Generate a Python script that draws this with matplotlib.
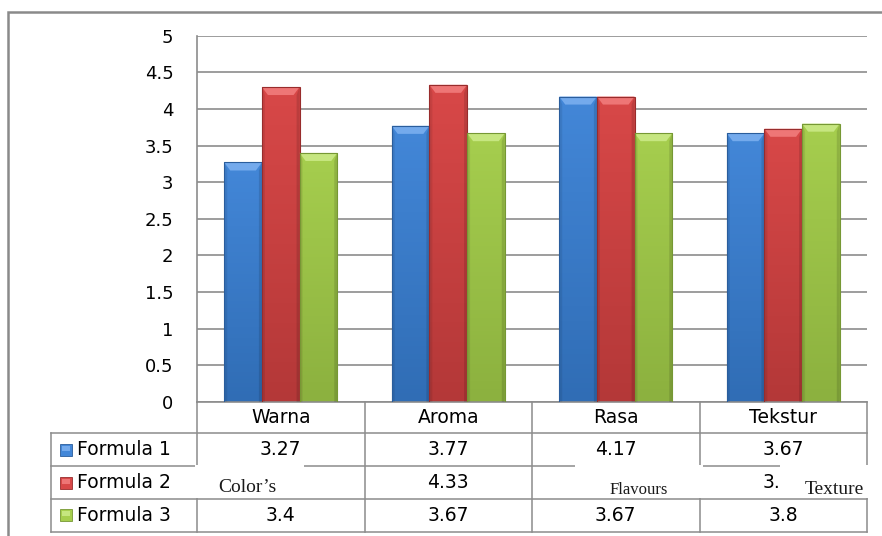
import numpy as np
import matplotlib.pyplot as plt
import matplotlib.colors as mcolors
from matplotlib.patches import Rectangle, Polygon
from matplotlib.lines import Line2D
from matplotlib.transforms import blended_transform_factory

# nilai rata-rata uji organoleptik
categories = ['Warna', 'Aroma', 'Rasa', 'Tekstur']
series = ['Formula 1', 'Formula 2', 'Formula 3']
formula1 = [3.27, 3.77, 4.17, 3.67]
formula2 = [4.3, 4.33, 4.17, 3.73]
formula3 = [3.4, 3.67, 3.67, 3.8]
yticks = [0, 0.5, 1, 1.5, 2, 2.5, 3, 3.5, 4, 4.5, 5]
notes = ['Color\u2019s', 'Flavours', 'Texture']

values = [formula1, formula2, formula3]
# sel tabel yang tertutup kotak keterangan (baris, kolom)
covered = {(1, 0), (1, 2)}
# warna batang: atas, bawah, tepi, bevel
palette = [
    ('#4387d8', '#306db5', '#2a5d9c', '#74aaec'),
    ('#d84848', '#b43838', '#982c2c', '#ee7676'),
    ('#a6ce4e', '#8cb13f', '#769834', '#c6e680'),
]

W, H = 882, 536
fig = plt.figure(figsize=(W / 100, H / 100), dpi=100)
fig.patch.set_facecolor('white')

def px(x):
    return x / W

def py(y):
    return 1 - y / H

ax = fig.add_axes([px(197), py(402), px(867) - px(197), py(35.7) - py(402)])
ax.set_xlim(-0.5, len(categories) - 0.5)
ax.set_ylim(0, 5)
ax.set_yticks(yticks)
ax.set_yticklabels([f'{v:g}' for v in yticks])
ax.tick_params(axis='y', length=0, pad=17, labelsize=13)
ax.set_xticks([])
ax.yaxis.grid(True, color='#8c8c8c', lw=1.2)
ax.set_axisbelow(True)
for side in ['top', 'right']:
    ax.spines[side].set_visible(False)
for side in ['left', 'bottom']:
    ax.spines[side].set_color('#8c8c8c')
    ax.spines[side].set_linewidth(1.2)

x = np.arange(len(categories))
bw = 0.225
dx, dy = 0.036, 0.11

for k, vals in enumerate(values):
    top_c, bot_c, edge_c, bev_c = palette[k]
    bars = ax.bar(x + (k - 1) * bw, vals, bw, facecolor='none',
                  edgecolor=edge_c, lw=0.8, zorder=4)
    cmap = mcolors.LinearSegmentedColormap.from_list('bar%d' % k, [top_c, bot_c])
    for rect in bars:
        x0, w, h = rect.get_x(), rect.get_width(), rect.get_height()
        grad = np.linspace(0, 1, 64)[:, None]
        im = ax.imshow(grad, cmap=cmap, extent=[x0, x0 + w, 0, h],
                       aspect='auto', origin='upper', zorder=2.5)
        im.set_clip_path(rect)
        # bevel atas dan sisi
        ax.add_patch(Polygon([(x0, h), (x0 + w, h), (x0 + w - dx, h - dy),
                              (x0 + dx, h - dy)], closed=True,
                             facecolor=bev_c, edgecolor='none', zorder=3))
        ax.add_patch(Polygon([(x0 + w, h), (x0 + w - dx * 0.5, h - dy),
                              (x0 + w - dx * 0.5, 0), (x0 + w, 0)], closed=True,
                             facecolor='black', alpha=0.12, edgecolor='none', zorder=3))
        ax.add_patch(Polygon([(x0, h), (x0 + dx * 0.5, h - dy),
                              (x0 + dx * 0.5, 0), (x0, 0)], closed=True,
                             facecolor='black', alpha=0.08, edgecolor='none', zorder=3))

ax.set_xlim(-0.5, len(categories) - 0.5)
ax.set_ylim(0, 5)

# tabel data di bawah grafik
tr = blended_transform_factory(ax.transData, fig.transFigure)
line_c = '#8c8c8c'
rows_y = [402, 433, 466, 499, 531.5]
font = dict(family='DejaVu Sans', fontsize=13.5, color='black')

for yy in rows_y[1:]:
    fig.add_artist(Line2D([px(50.7), px(867)], [py(yy), py(yy)],
                          transform=fig.transFigure, color=line_c, lw=1.1))
for b in np.arange(-0.5, len(categories)):
    fig.add_artist(Line2D([b, b], [py(rows_y[0]), py(rows_y[-1])],
                          transform=tr, color=line_c, lw=1.1))
fig.add_artist(Line2D([px(50.7), px(50.7)], [py(rows_y[1]), py(rows_y[-1])],
                      transform=fig.transFigure, color=line_c, lw=1.1))

for i, cat in enumerate(categories):
    fig.text(i, py((rows_y[0] + rows_y[1]) / 2), cat, transform=tr,
             ha='center', va='center', **font)

for k, (name, vals) in enumerate(zip(series, values)):
    yc = py((rows_y[k + 1] + rows_y[k + 2]) / 2)
    fig.add_artist(Rectangle((px(60), yc - 6 / H), 12 / W, 12 / H,
                             transform=fig.transFigure, facecolor=palette[k][0],
                             edgecolor=palette[k][2], lw=0.6))
    fig.add_artist(Rectangle((px(62), yc - 1 / H), 8 / W, 5 / H,
                             transform=fig.transFigure, facecolor=palette[k][3],
                             edgecolor='none'))
    fig.text(px(77), yc, name, ha='left', va='center', **font)
    for i, v in enumerate(vals):
        if (k, i) in covered:
            continue
        fig.text(i, yc, f'{v:g}', transform=tr, ha='center', va='center', **font)

# kotak keterangan berbahasa Inggris menimpa baris Formula 2
boxes = [(195, 304), (575, 703), (780, 890)]
note_pos = [(218, 'left', 14, 492.5, 493.5), (639, 'center', 12, 494, 494),
            (805, 'left', 14, 493.5, 495)]
for (xa, xb), (tx, ha, fs, base_y, clip_y), txt in zip(boxes, note_pos, notes):
    box = Rectangle((px(xa), py(498)), px(xb) - px(xa), py(465) - py(498),
                    transform=fig.transFigure, facecolor='white',
                    edgecolor='none', zorder=10)
    fig.add_artist(box)
    frame = Rectangle((px(xa), py(clip_y)), px(xb) - px(xa), py(465) - py(clip_y),
                      transform=fig.transFigure, facecolor='none', edgecolor='none')
    t = fig.text(px(tx), py(base_y), txt, ha=ha, va='baseline',
                 family='Liberation Serif', fontsize=fs, color='#1a1a1a', zorder=11)
    t.set_clip_path(frame)

# bingkai luar
fig.add_artist(Rectangle((px(8), -0.1), 1.2, py(12) + 0.1, transform=fig.transFigure,
                         facecolor='none', edgecolor='#8a8a8a', lw=1.8))

fig.savefig('out.png', dpi=100)
